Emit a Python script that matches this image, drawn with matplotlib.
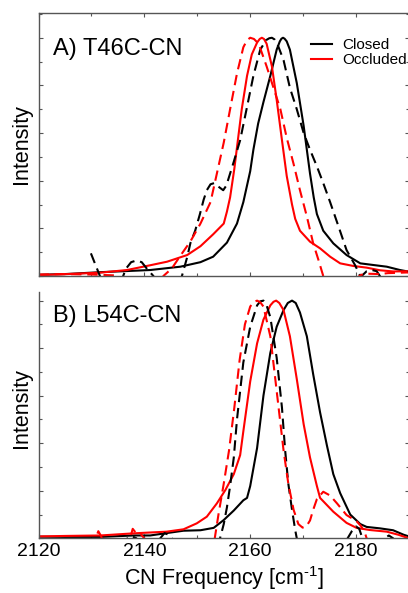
import matplotlib
matplotlib.use('Agg')
import matplotlib.pyplot as plt
from matplotlib.ticker import MultipleLocator

plt.rcParams['font.family'] = ['Liberation Sans', 'DejaVu Sans']
plt.rcParams['mathtext.fontset'] = 'custom'
plt.rcParams['mathtext.rm'] = 'Liberation Sans'

# ---- panel A: T46C-CN ----
a_closed_x = [2120, 2125, 2131.7, 2136, 2141.1, 2146.8, 2150.6, 2153, 2155.6, 2157.5,
              2158.7, 2160, 2160.6, 2161.5, 2162.5, 2163.8, 2165, 2165.6, 2165.9, 2166.2,
              2166.5, 2166.9, 2167.5, 2168.8, 2170.1, 2171.3, 2172, 2172.6, 2173.8, 2175.7,
              2178.2, 2180.8, 2183.3, 2185.8, 2188.3, 2190]
a_closed_y = [0.005, 0.008, 0.016, 0.02, 0.025, 0.039, 0.058, 0.081, 0.14, 0.22,
              0.31, 0.44, 0.53, 0.64, 0.73, 0.84, 0.95, 0.985, 0.996, 1.0,
              0.996, 0.985, 0.95, 0.81, 0.63, 0.43, 0.33, 0.26, 0.19, 0.137,
              0.088, 0.053, 0.046, 0.039, 0.025, 0.018]

a_occl_x = [2120, 2125.4, 2131.7, 2136.7, 2141.1, 2144.3, 2148.1, 2150.6, 2153, 2155,
            2155.6, 2156.2, 2157, 2157.5, 2158.4, 2159.4, 2160.3, 2161.3, 2161.8, 2162.2,
            2162.6, 2163.1, 2164.1, 2165, 2166, 2166.9, 2167.9, 2168.5, 2169.4, 2171.3,
            2173.2, 2175.1, 2177, 2179.5, 2182, 2184.5, 2187, 2190]
a_occl_y = [0.004, 0.008, 0.014, 0.025, 0.045, 0.06, 0.088, 0.125, 0.175, 0.22,
            0.27, 0.33, 0.45, 0.54, 0.70, 0.84, 0.93, 0.98, 0.995, 1.0,
            0.995, 0.975, 0.88, 0.74, 0.57, 0.42, 0.30, 0.24, 0.19, 0.144,
            0.116, 0.081, 0.053, 0.042, 0.035, 0.024, 0.019, 0.02]

a_closed_d_x = [2129.9, 2131.6, 2132.5, 2135.3, 2136.0, 2136.5, 2137.5, 2138.5, 2139.5, 2140.5,
                2141.7, 2142.5, 2146.3, 2147.1, 2148.1, 2148.7, 2149.6, 2150.5, 2151.2, 2151.8,
                2152.5, 2153.2, 2154, 2154.9, 2155.5, 2156.2, 2156.9, 2158.1, 2159.4, 2160.6,
                2161.9, 2163, 2163.6, 2164.1, 2164.6, 2165.2, 2166.3, 2167.5, 2168.8, 2170.1,
                2171.3, 2172.6, 2173.8, 2175.1, 2176.7, 2178.2, 2179.8, 2180.8, 2181.2, 2182,
                2183, 2183.9, 2184.5, 2185, 2188.5, 2189, 2190]
a_closed_d_y = [0.095, 0.0, -0.03, -0.03, 0.0, 0.03, 0.058, 0.065, 0.058, 0.03,
                0.0, -0.03, -0.03, 0.0, 0.08, 0.138, 0.19, 0.26, 0.32, 0.36,
                0.385, 0.39, 0.375, 0.36, 0.38, 0.43, 0.48, 0.57, 0.71, 0.84,
                0.95, 0.99, 0.998, 1.0, 0.993, 0.97, 0.906, 0.79, 0.70, 0.60,
                0.53, 0.46, 0.39, 0.31, 0.207, 0.109, 0.046, 0.0, 0.003, 0.02,
                0.025, 0.02, 0.0, -0.03, -0.03, 0.0, 0.02]

a_occl_d_x = [2120, 2125, 2130, 2135, 2136, 2143, 2143.6, 2145.2, 2146.8, 2148.7,
              2150.6, 2152.5, 2153.7, 2155, 2156.2, 2157.5, 2158.7, 2159.4, 2160, 2160.7,
              2161.6, 2163.1, 2164.4, 2165.7, 2166.9, 2168.2, 2169.4, 2170.7, 2171.9, 2172.9,
              2173.8, 2174.5, 2180, 2180.6, 2181.5, 2184.5, 2186, 2190]
a_occl_d_y = [0.006, 0.008, 0.006, 0.002, -0.03, -0.03, 0.0, 0.032, 0.085, 0.145,
              0.22, 0.31, 0.43, 0.56, 0.70, 0.85, 0.96, 0.99, 1.0, 0.995,
              0.975, 0.88, 0.79, 0.70, 0.58, 0.47, 0.36, 0.25, 0.137, 0.067,
              0.0, -0.03, -0.03, 0.0, 0.01, 0.008, 0.012, 0.015]

# ---- panel B: L54C-CN ----
b_closed_x = [2120, 2125, 2131.7, 2138, 2141.1, 2144.2, 2147.4, 2150.6, 2153.1, 2155,
              2156.9, 2158.7, 2159.4, 2160, 2161.3, 2162.5, 2163.8, 2165, 2166.3, 2167.1,
              2167.9, 2168.6, 2169.4, 2170.7, 2171.9, 2173.2, 2174.5, 2175.7, 2177, 2178.9,
              2180.8, 2182, 2184.5, 2187, 2189, 2190]
b_closed_y = [0.007, 0.006, 0.006, 0.012, 0.012, 0.022, 0.032, 0.034, 0.044, 0.077,
              0.117, 0.16, 0.17, 0.22, 0.38, 0.60, 0.78, 0.89, 0.96, 0.99,
              1.0, 0.99, 0.95, 0.85, 0.69, 0.53, 0.39, 0.27, 0.19, 0.10,
              0.06, 0.048, 0.042, 0.034, 0.015, 0.008]

b_occl_x = [2120, 2125, 2131.7, 2138, 2144.2, 2147.4, 2149.9, 2151.8, 2153.7, 2155.3,
            2156.9, 2158.1, 2158.7, 2160, 2161.3, 2162.5, 2163.8, 2164.4, 2164.9, 2165.5,
            2166.3, 2167.5, 2168.8, 2170.1, 2171.3, 2172.6, 2173.2, 2175.7, 2178.2, 2180.1,
            2182.6, 2185.8, 2188, 2190]
b_occl_y = [0.008, 0.01, 0.012, 0.021, 0.028, 0.038, 0.063, 0.091, 0.147, 0.203,
            0.27, 0.35, 0.45, 0.66, 0.82, 0.92, 0.98, 0.995, 1.0, 0.99,
            0.96, 0.85, 0.67, 0.48, 0.34, 0.22, 0.17, 0.112, 0.065, 0.044,
            0.035, 0.028, 0.015, 0.0]

b_closed_d_x = [2120, 2136, 2136.8, 2137.5, 2138.5, 2139, 2142.4, 2143, 2143.8, 2144.6,
                2145.2, 2145.8, 2153.6, 2154.3, 2155, 2155.6, 2156.2, 2156.9, 2157.5, 2158.7,
                2160, 2161.3, 2161.9, 2162.5, 2163.1, 2163.8, 2165, 2166, 2166.6, 2167.2,
                2167.9, 2168.5, 2168.8, 2169.5, 2177.8, 2178.4, 2179.2, 2180, 2180.6, 2181.2,
                2181.8, 2184.8, 2185.4, 2186.2, 2187, 2187.6, 2190]
b_closed_d_y = [-0.02, -0.02, 0.0, 0.01, 0.0, -0.02, -0.02, 0.0, 0.022, 0.015,
                0.0, -0.03, -0.03, 0.0, 0.06, 0.13, 0.22, 0.34, 0.50, 0.74,
                0.89, 0.98, 0.997, 1.0, 0.98, 0.93, 0.76, 0.55, 0.37, 0.23,
                0.12, 0.035, 0.0, -0.03, -0.03, 0.0, 0.03, 0.05, 0.04, 0.0,
                -0.03, -0.03, 0.0, 0.012, 0.0, -0.03, -0.03]

b_occl_d_x = [2120, 2130.3, 2130.8, 2131.3, 2131.8, 2132.3, 2136.9, 2137.3, 2137.8, 2138.5,
              2139.3, 2140, 2140.5, 2153.0, 2153.3, 2154, 2155, 2156, 2157, 2158,
              2159, 2160, 2160.6, 2161.3, 2161.9, 2162.5, 2163.8, 2165, 2166.3, 2167.2,
              2168.2, 2169.1, 2169.9, 2170.6, 2171.3, 2171.9, 2172.6, 2173.8, 2175.1, 2176.4,
              2178.2, 2180.1, 2181, 2181.7, 2182, 2182.5, 2190]
b_occl_d_y = [-0.02, -0.02, 0.0, 0.03, 0.01, -0.02, -0.02, 0.0, 0.04, 0.02,
              0.018, 0.0, -0.02, -0.02, 0.0, 0.1, 0.23, 0.37, 0.55, 0.75,
              0.9, 0.975, 0.993, 1.0, 0.993, 0.975, 0.85, 0.62, 0.37, 0.23,
              0.12, 0.06, 0.045, 0.05, 0.075, 0.12, 0.165, 0.196, 0.18, 0.147,
              0.098, 0.072, 0.05, 0.021, 0.0, -0.03, -0.03]

legend_labels = ['Closed', 'Occluded']
panel_titles = ['A) T46C-CN', 'B) L54C-CN']
xtick_vals = [2120, 2140, 2160, 2180]

red = '#ff0000'
dash = (0, (5, 2.8))
lw = 1.5

fig = plt.figure(figsize=(4.08, 5.93), dpi=100)
ax1 = fig.add_axes([0.0944, 0.5346, 0.908, 0.4435])
ax2 = fig.add_axes([0.0944, 0.0922, 0.908, 0.4153])

l1, = ax1.plot(a_closed_x, a_closed_y, color='black', lw=lw)
l2, = ax1.plot(a_occl_x, a_occl_y, color=red, lw=lw)
ax1.plot(a_closed_d_x, a_closed_d_y, color='black', lw=lw, ls=dash)
ax1.plot(a_occl_d_x, a_occl_d_y, color=red, lw=lw, ls=dash)

ax2.plot(b_closed_x, b_closed_y, color='black', lw=lw)
ax2.plot(b_occl_x, b_occl_y, color=red, lw=lw)
ax2.plot(b_closed_d_x, b_closed_d_y, color='black', lw=lw, ls=dash)
ax2.plot(b_occl_d_x, b_occl_d_y, color=red, lw=lw, ls=dash)

ax1.set_ylim(0, 1.104)
ax2.set_ylim(0, 1.036)

for ax in (ax1, ax2):
    ax.set_xlim(2120, 2190)
    ax.xaxis.set_major_locator(MultipleLocator(20))
    ax.xaxis.set_minor_locator(MultipleLocator(10))
    ax.yaxis.set_major_locator(MultipleLocator(0.2))
    ax.yaxis.set_minor_locator(MultipleLocator(0.1))
    ax.tick_params(which='both', direction='in', right=True, labelleft=False,
                   color='#555555', width=0.8)
    ax.tick_params(which='major', length=3.2)
    ax.tick_params(which='minor', length=2.0)
    for s in ax.spines.values():
        s.set_color('#555555')
        s.set_linewidth(1.0)
    ax.set_ylabel('Intensity', fontsize=15.5)

ax1.tick_params(which='both', top=True, labelbottom=False)
ax2.tick_params(which='both', top=False, labelsize=14, pad=3.5)
ax2.spines['top'].set_visible(False)
ax2.set_xticks(xtick_vals)
ax2.set_xlabel('CN Frequency [cm$^{\\text{-1}}$]', fontsize=15.5, labelpad=2.5)

ax1.yaxis.set_label_coords(-0.018, 0.5)
ax2.yaxis.set_label_coords(-0.018, 0.53)

ax1.text(0.039, 0.84, panel_titles[0], transform=ax1.transAxes, fontsize=17, va='baseline')
ax2.text(0.039, 0.878, panel_titles[1], transform=ax2.transAxes, fontsize=17, va='baseline')

ax1.legend([l1, l2], legend_labels, loc='upper left', bbox_to_anchor=(0.7355, 0.905),
           frameon=False, fontsize=11, handlelength=1.4, handletextpad=0.65,
           labelspacing=0.1, borderpad=0, borderaxespad=0)

fig.savefig('out.png', dpi=100)
